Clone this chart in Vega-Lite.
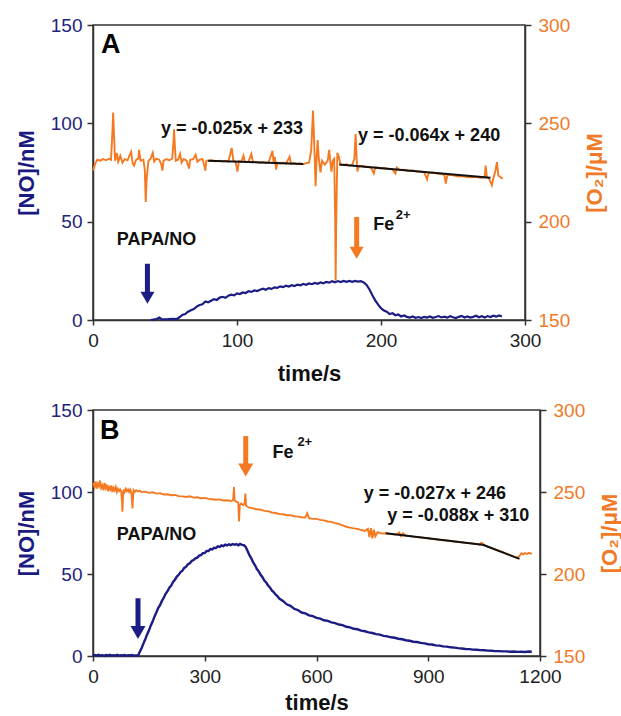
{
  "$schema": "https://vega.github.io/schema/vega-lite/v6.json",
  "padding": {"left": 14, "top": 15, "right": 0, "bottom": 0},
  "spacing": 15,
  "config": {
    "font": "Liberation Sans",
    "view": {"stroke": "#333", "strokeWidth": 1.5},
    "axis": {"grid": false, "domainColor": "#333", "tickColor": "#333", "domainWidth": 1.5, "tickWidth": 1.5, "tickSize": 6, "labelFont": "Liberation Sans", "labelFontSize": 19, "titleFont": "Liberation Sans", "titleFontSize": 22, "titleFontWeight": "bold", "labelFlush": false, "labelOverlap": false}
  },
  "datasets": {
    "noA": [
      {"t":40,"v":0},{"t":44,"v":0.4},{"t":46,"v":1.3},{"t":48,"v":0.3},{"t":52,"v":0.4},{"t":56,"v":0.6},{"t":58,"v":0.4},{"t":60,"v":1.4},{"t":62,"v":2.6},{"t":64,"v":3.0},{"t":66,"v":4.2},{"t":68,"v":5.0},{"t":70,"v":5.6},{"t":72,"v":6.8},{"t":74,"v":7.6},{"t":76,"v":8.0},{"t":78,"v":9.4},{"t":80,"v":9.0},{"t":82,"v":9.8},{"t":84,"v":10.6},{"t":86,"v":10.2},{"t":88,"v":11.4},{"t":90,"v":11.8},{"t":92,"v":11.3},{"t":94,"v":12.4},{"t":96,"v":12.9},{"t":98,"v":12.5},{"t":100,"v":13.5},{"t":102,"v":13.2},{"t":104,"v":14.0},{"t":106,"v":13.7},{"t":108,"v":14.6},{"t":110,"v":14.3},{"t":112,"v":15.0},{"t":114,"v":14.7},{"t":116,"v":15.4},{"t":118,"v":15.9},{"t":120,"v":15.4},{"t":122,"v":16.2},{"t":124,"v":15.8},{"t":126,"v":16.6},{"t":128,"v":16.3},{"t":130,"v":17.1},{"t":132,"v":16.7},{"t":134,"v":17.4},{"t":136,"v":17.0},{"t":138,"v":17.7},{"t":140,"v":17.3},{"t":142,"v":18.0},{"t":144,"v":17.6},{"t":146,"v":18.3},{"t":148,"v":17.9},{"t":150,"v":18.6},{"t":152,"v":18.2},{"t":154,"v":18.8},{"t":156,"v":18.4},{"t":158,"v":19.1},{"t":160,"v":18.7},{"t":162,"v":19.4},{"t":164,"v":19.0},{"t":166,"v":19.7},{"t":168,"v":19.2},{"t":170,"v":19.8},{"t":172,"v":19.3},{"t":174,"v":19.9},{"t":176,"v":19.4},{"t":178,"v":19.9},{"t":180,"v":19.4},{"t":182,"v":19.9},{"t":184,"v":19.5},{"t":186,"v":19.8},{"t":188,"v":19.1},{"t":190,"v":17.8},{"t":192,"v":15.5},{"t":194,"v":12.6},{"t":196,"v":10.0},{"t":198,"v":7.8},{"t":200,"v":6.0},{"t":202,"v":4.8},{"t":204,"v":4.2},{"t":206,"v":3.0},{"t":208,"v":3.4},{"t":210,"v":2.4},{"t":212,"v":2.8},{"t":214,"v":1.8},{"t":216,"v":2.3},{"t":218,"v":1.6},{"t":220,"v":1.2},{"t":222,"v":1.8},{"t":224,"v":1.1},{"t":226,"v":1.5},{"t":228,"v":1.0},{"t":230,"v":1.6},{"t":232,"v":1.2},{"t":234,"v":1.8},{"t":236,"v":1.1},{"t":238,"v":1.5},{"t":240,"v":2.0},{"t":242,"v":1.3},{"t":244,"v":1.7},{"t":246,"v":1.2},{"t":248,"v":1.9},{"t":250,"v":1.4},{"t":252,"v":1.0},{"t":254,"v":1.6},{"t":256,"v":2.1},{"t":258,"v":1.3},{"t":260,"v":1.8},{"t":262,"v":1.2},{"t":264,"v":1.6},{"t":266,"v":2.2},{"t":268,"v":1.4},{"t":270,"v":1.9},{"t":272,"v":1.3},{"t":274,"v":2.0},{"t":276,"v":1.5},{"t":278,"v":2.2},{"t":280,"v":1.7},{"t":282,"v":2.3},{"t":284,"v":1.8}
    ],
    "o2A": [
      {"t":0,"v":226},{"t":1.5,"v":229.5},{"t":3,"v":231.5},{"t":5,"v":231},{"t":7,"v":231.8},{"t":9,"v":231.2},{"t":11,"v":232},{"t":12.5,"v":231.5},{"t":13.5,"v":246},{"t":14,"v":255.5},{"t":14.6,"v":244},{"t":15.3,"v":231},{"t":16.5,"v":235},{"t":17.5,"v":230.5},{"t":19,"v":233.5},{"t":20.5,"v":230},{"t":22,"v":231.8},{"t":24,"v":231.2},{"t":25.5,"v":234},{"t":26.5,"v":235.5},{"t":27.5,"v":230},{"t":28.5,"v":228.5},{"t":30,"v":231.5},{"t":31.5,"v":232},{"t":32,"v":236.5},{"t":33,"v":231},{"t":35,"v":231.5},{"t":36,"v":226},{"t":36.6,"v":210},{"t":37.3,"v":222},{"t":38.5,"v":231},{"t":40,"v":232},{"t":41.5,"v":235},{"t":42.5,"v":230.5},{"t":44,"v":232},{"t":46,"v":231.5},{"t":47.5,"v":229},{"t":48.2,"v":226},{"t":49,"v":231},{"t":51,"v":231.8},{"t":53,"v":231.2},{"t":55,"v":232},{"t":55.8,"v":240},{"t":56.3,"v":247},{"t":56.9,"v":238},{"t":57.5,"v":231},{"t":59,"v":231.5},{"t":60.5,"v":234.5},{"t":61.5,"v":230},{"t":63,"v":231.8},{"t":65,"v":231},{"t":66.7,"v":227},{"t":67.5,"v":231.5},{"t":69.5,"v":231.8},{"t":71.3,"v":234},{"t":72.5,"v":230.5},{"t":74,"v":231.5},{"t":76,"v":231.8},{"t":77.5,"v":228},{"t":78,"v":226},{"t":78.7,"v":231},{"t":80,"v":231},{"t":82,"v":231.2},{"t":85,"v":230.7},{"t":88,"v":231},{"t":90,"v":230.6},{"t":92,"v":231},{"t":94,"v":230.5},{"t":96.3,"v":237.5},{"t":97.5,"v":231},{"t":99,"v":230.6},{"t":100.3,"v":225.5},{"t":101.3,"v":230.8},{"t":103,"v":230.4},{"t":104.5,"v":233.5},{"t":105.5,"v":230.2},{"t":108,"v":230.5},{"t":110,"v":234.5},{"t":111,"v":230.2},{"t":113,"v":230.4},{"t":116,"v":230},{"t":118,"v":230.3},{"t":120,"v":229.8},{"t":122,"v":230.2},{"t":124.6,"v":236},{"t":125.5,"v":229.8},{"t":126.3,"v":233},{"t":127.2,"v":226.5},{"t":128,"v":230},{"t":130,"v":229.6},{"t":132,"v":230},{"t":134,"v":229.5},{"t":136.5,"v":233},{"t":137.5,"v":229.4},{"t":139.5,"v":229.8},{"t":141.5,"v":229.3},{"t":144,"v":229.6},{"t":146,"v":229.2},{"t":148,"v":229.8},{"t":150,"v":230},{"t":151.5,"v":236},{"t":152.8,"v":256.5},{"t":153.7,"v":238},{"t":154.6,"v":218},{"t":155.3,"v":232},{"t":156,"v":241.5},{"t":156.8,"v":232},{"t":158,"v":225},{"t":159,"v":231},{"t":161,"v":229},{"t":163,"v":231},{"t":164,"v":236.5},{"t":165,"v":229},{"t":165.6,"v":225.5},{"t":166.5,"v":231},{"t":167.5,"v":232},{"t":168.2,"v":200},{"t":168.5,"v":170},{"t":168.9,"v":200},{"t":169.7,"v":235},{"t":170.7,"v":233},{"t":172,"v":229},{"t":174,"v":228.8},{"t":176,"v":229.2},{"t":178,"v":228.5},{"t":180,"v":228.8},{"t":181.5,"v":232},{"t":182.4,"v":244.5},{"t":183.1,"v":232},{"t":183.6,"v":225.5},{"t":184.5,"v":228.2},{"t":187,"v":228.4},{"t":189,"v":227.8},{"t":191,"v":228},{"t":193,"v":227.5},{"t":195,"v":224.5},{"t":196,"v":227.6},{"t":198,"v":227.4},{"t":200,"v":227},{"t":202,"v":227.3},{"t":205,"v":226.8},{"t":208,"v":226.6},{"t":210,"v":224.5},{"t":211,"v":227.5},{"t":213,"v":226.2},{"t":216,"v":226.4},{"t":219,"v":225.8},{"t":222,"v":226},{"t":225,"v":225.5},{"t":228,"v":225.4},{"t":230,"v":225},{"t":232,"v":221.5},{"t":233,"v":224.8},{"t":236,"v":224.9},{"t":239,"v":224.5},{"t":242,"v":224.2},{"t":244,"v":223.8},{"t":245,"v":219.3},{"t":246,"v":223.5},{"t":248,"v":223.8},{"t":251,"v":223.4},{"t":254,"v":223},{"t":257,"v":223.2},{"t":260,"v":222.7},{"t":263,"v":222.6},{"t":266,"v":222.8},{"t":269,"v":222.3},{"t":272,"v":222.5},{"t":272.7,"v":228.5},{"t":273.5,"v":222.5},{"t":275,"v":222},{"t":277,"v":218.5},{"t":278,"v":222},{"t":279.5,"v":226},{"t":280.5,"v":230.3},{"t":281.5,"v":223.5},{"t":283,"v":222.6},{"t":284.5,"v":221.8}
    ],
    "fitA": [
      {"g":"1","t":80,"v":231},{"g":"1","t":146,"v":229.35},
      {"g":"2","t":171,"v":229.06},{"g":"2","t":276,"v":222.34}
    ],
    "arrowA": [
      {"agent":"PAPA/NO","t":37.8,"v":28.6,"v2":13},
      {"agent":"Fe2+","t":183.1,"v":52.4,"v2":36}
    ],
    "headA": [
      {"agent":"PAPA/NO","t":37.8,"v":11.3},
      {"agent":"Fe2+","t":183.1,"v":34.2}
    ],
    "labelA": [
      {"t":96.5,"v":94.7,"label":"y = -0.025x + 233"},
      {"t":233.4,"v":90.8,"label":"y = -0.064x + 240"},
      {"t":44.1,"v":38.3,"label":"PAPA/NO"}
    ],
    "feA": [{"t":194.7,"v":45.6,"label":"Fe"}],
    "supA": [{"t":210.2,"v":51.5,"label":"2+"}],
    "letterA": [{"t":12.4,"v":140,"label":"A"}],
    "noB": [
      {"t":0,"v":0.3},{"t":5,"v":0.6},{"t":10,"v":0.2},{"t":15,"v":0.7},{"t":20,"v":0.3},{"t":25,"v":0.5},{"t":30,"v":0.1},{"t":35,"v":0.6},{"t":40,"v":0.3},{"t":45,"v":0.7},{"t":50,"v":0.2},{"t":55,"v":0.5},{"t":60,"v":0.3},{"t":65,"v":0.7},{"t":70,"v":0.2},{"t":75,"v":0.5},{"t":80,"v":0.3},{"t":85,"v":0.6},{"t":90,"v":0.2},{"t":95,"v":0.5},{"t":100,"v":0.3},{"t":105,"v":0.6},{"t":110,"v":0.2},{"t":115,"v":0.4},{"t":120,"v":0.3},{"t":121,"v":0.2},
      {"t":125,"v":2.3},{"t":130,"v":4.5},{"t":135,"v":7.4},{"t":140,"v":10},{"t":145,"v":13},{"t":150,"v":15.5},{"t":155,"v":18.5},{"t":160,"v":21},{"t":165,"v":24},{"t":170,"v":26.5},{"t":175,"v":29.2},{"t":180,"v":31},{"t":185,"v":33.6},{"t":190,"v":35.5},{"t":195,"v":37.9},{"t":200,"v":39.5},{"t":205,"v":41.6},{"t":210,"v":43},{"t":215,"v":45.1},{"t":220,"v":46.5},{"t":225,"v":48.4},{"t":230,"v":49.5},{"t":235,"v":51.2},{"t":240,"v":52},{"t":245,"v":53.7},{"t":250,"v":54.5},{"t":255,"v":56},{"t":260,"v":56.5},{"t":265,"v":57.9},{"t":270,"v":58.5},{"t":275,"v":59.6},{"t":280,"v":60},{"t":285,"v":61.2},{"t":290,"v":61.5},{"t":295,"v":62.7},{"t":300,"v":62.8},{"t":305,"v":64},{"t":310,"v":64},{"t":315,"v":65.2},{"t":320,"v":65},{"t":325,"v":66},{"t":330,"v":65.8},{"t":335,"v":66.8},{"t":340,"v":66.5},{"t":345,"v":67.4},{"t":350,"v":67},{"t":355,"v":67.9},{"t":360,"v":67.4},{"t":365,"v":68.1},{"t":370,"v":67.6},{"t":375,"v":68.3},{"t":380,"v":67.8},{"t":385,"v":68.2},{"t":390,"v":67.5},{"t":395,"v":68.3},{"t":400,"v":67.8},{"t":405,"v":67.6},{"t":410,"v":66.5},{"t":415,"v":64},{"t":420,"v":61.5},{"t":425,"v":59.5},{"t":430,"v":57},{"t":435,"v":55.3},{"t":440,"v":53},{"t":445,"v":51.6},{"t":450,"v":49.5},{"t":455,"v":48},{"t":460,"v":46},{"t":465,"v":44.8},{"t":470,"v":43},{"t":475,"v":41.8},{"t":480,"v":40},{"t":485,"v":39},{"t":490,"v":37.5},{"t":495,"v":36.6},{"t":500,"v":35},{"t":510,"v":33.6},{"t":520,"v":31.5},{"t":530,"v":30.6},{"t":540,"v":28.8},{"t":550,"v":28},{"t":560,"v":26.5},{"t":570,"v":26},{"t":580,"v":24.8},{"t":590,"v":24.3},{"t":600,"v":23.2},{"t":610,"v":22.8},{"t":620,"v":21.8},{"t":630,"v":21.4},{"t":640,"v":20.5},{"t":650,"v":20.1},{"t":660,"v":19.2},{"t":670,"v":18.8},{"t":680,"v":17.8},{"t":690,"v":17.5},{"t":700,"v":16.6},{"t":710,"v":16.3},{"t":720,"v":15.5},{"t":730,"v":15.1},{"t":740,"v":14.4},{"t":750,"v":14.0},{"t":760,"v":13.3},{"t":770,"v":13.0},{"t":780,"v":12.3},{"t":790,"v":12.0},{"t":800,"v":11.4},{"t":810,"v":11.1},{"t":820,"v":10.5},{"t":830,"v":10.2},{"t":840,"v":9.6},{"t":850,"v":9.3},{"t":860,"v":8.7},{"t":870,"v":8.5},{"t":880,"v":8.0},{"t":890,"v":7.7},{"t":900,"v":7.2},{"t":910,"v":7.0},{"t":920,"v":6.5},{"t":930,"v":6.3},{"t":940,"v":5.9},{"t":950,"v":5.7},{"t":960,"v":5.3},{"t":970,"v":5.1},{"t":980,"v":4.8},{"t":990,"v":4.6},{"t":1000,"v":4.3},{"t":1010,"v":4.2},{"t":1020,"v":3.9},{"t":1030,"v":3.8},{"t":1040,"v":3.6},{"t":1050,"v":3.5},{"t":1060,"v":3.3},{"t":1070,"v":3.2},{"t":1080,"v":3.0},{"t":1090,"v":3.0},{"t":1100,"v":2.8},{"t":1110,"v":2.8},{"t":1120,"v":2.6},{"t":1130,"v":2.7},{"t":1140,"v":2.5},{"t":1150,"v":2.6},{"t":1160,"v":2.4},{"t":1170,"v":2.7},{"t":1178,"v":2.6}
    ],
    "o2B": [
      {"t":0,"v":255.5},{"t":4,"v":253},{"t":7,"v":256.5},{"t":10,"v":252},{"t":13,"v":255},{"t":16,"v":253.5},{"t":19,"v":257},{"t":22,"v":252.5},{"t":25,"v":254},{"t":28,"v":251},{"t":31,"v":255.5},{"t":34,"v":252.5},{"t":37,"v":254.5},{"t":40,"v":250.5},{"t":43,"v":253},{"t":46,"v":251.5},{"t":49,"v":254},{"t":52,"v":250},{"t":55,"v":252.5},{"t":58,"v":251},{"t":61,"v":253},{"t":64,"v":250},{"t":67,"v":252},{"t":70,"v":250.5},{"t":73,"v":251.5},{"t":76,"v":250},{"t":78,"v":244},{"t":79,"v":238},{"t":80.5,"v":247},{"t":82,"v":251.5},{"t":85,"v":250},{"t":88,"v":252},{"t":91,"v":250.5},{"t":94,"v":251.5},{"t":97,"v":250},{"t":100,"v":251.5},{"t":103,"v":249.5},{"t":105,"v":244},{"t":106,"v":240},{"t":107.5,"v":247},{"t":109,"v":251},{"t":112,"v":250},{"t":116,"v":251},{"t":120,"v":250.3},{"t":125,"v":250.8},{"t":130,"v":250},{"t":140,"v":250.2},{"t":150,"v":249.5},{"t":160,"v":249.8},{"t":170,"v":249},{"t":180,"v":249.3},{"t":190,"v":248.5},{"t":200,"v":248.6},{"t":210,"v":248},{"t":220,"v":248.2},{"t":230,"v":247.5},{"t":240,"v":247.3},{"t":250,"v":247},{"t":260,"v":247.4},{"t":270,"v":246.6},{"t":280,"v":246.8},{"t":290,"v":246.2},{"t":300,"v":246.4},{"t":310,"v":245.8},{"t":320,"v":245.6},{"t":330,"v":245.3},{"t":340,"v":245.5},{"t":350,"v":244.8},{"t":360,"v":245},{"t":370,"v":244.5},{"t":376,"v":245},{"t":378.6,"v":253},{"t":380,"v":245},{"t":385,"v":244},{"t":390,"v":243.5},{"t":392,"v":232},{"t":394,"v":242},{"t":398,"v":243},{"t":403,"v":242},{"t":407,"v":243},{"t":409,"v":249},{"t":411,"v":241.5},{"t":415,"v":241},{"t":420,"v":240.5},{"t":430,"v":240},{"t":440,"v":239.5},{"t":450,"v":239.2},{"t":460,"v":238.5},{"t":470,"v":238.3},{"t":480,"v":237.5},{"t":490,"v":237.2},{"t":500,"v":236.6},{"t":510,"v":236.4},{"t":520,"v":235.8},{"t":530,"v":235.9},{"t":540,"v":235.2},{"t":550,"v":235},{"t":560,"v":234.6},{"t":570,"v":234.4},{"t":575,"v":237},{"t":580,"v":234},{"t":590,"v":233.6},{"t":600,"v":233.6},{"t":610,"v":233},{"t":620,"v":232.7},{"t":630,"v":232},{"t":640,"v":231.8},{"t":650,"v":231},{"t":660,"v":230.5},{"t":670,"v":229.6},{"t":680,"v":228.8},{"t":690,"v":228.3},{"t":700,"v":227.8},{"t":710,"v":227.5},{"t":720,"v":226.8},{"t":730,"v":226.3},{"t":738,"v":227.5},{"t":742,"v":222.5},{"t":746,"v":228},{"t":750,"v":221.8},{"t":754,"v":227},{"t":758,"v":223},{"t":764,"v":225.5},{"t":770,"v":225},{"t":778,"v":224.6},{"t":786,"v":224.8},{"t":795,"v":224.5},{"t":805,"v":224.2},{"t":815,"v":224},{"t":822,"v":225.3},{"t":827,"v":223.2},{"t":832,"v":224.8},{"t":840,"v":223.4},{"t":850,"v":223.2},{"t":860,"v":222.8},{"t":870,"v":222.6},{"t":880,"v":222.3},{"t":890,"v":222},{"t":900,"v":221.8},{"t":910,"v":221.4},{"t":920,"v":221.2},{"t":930,"v":220.8},{"t":940,"v":220.6},{"t":950,"v":220.4},{"t":960,"v":220.1},{"t":970,"v":219.8},{"t":980,"v":219.6},{"t":990,"v":219.3},{"t":1000,"v":219},{"t":1010,"v":218.8},{"t":1020,"v":218.5},{"t":1030,"v":218.2},{"t":1038,"v":217.9},{"t":1042,"v":219},{"t":1046,"v":218.6},{"t":1050,"v":217.6},{"t":1060,"v":216.7},{"t":1070,"v":215.8},{"t":1080,"v":215},{"t":1090,"v":214.1},{"t":1100,"v":213.3},{"t":1110,"v":212.4},{"t":1120,"v":211.5},{"t":1130,"v":210.6},{"t":1140,"v":210},{"t":1145,"v":211},{"t":1150,"v":212.6},{"t":1155,"v":212},{"t":1160,"v":212.8},{"t":1165,"v":212.2},{"t":1170,"v":212.9},{"t":1175,"v":212.4},{"t":1178,"v":212.7}
    ],
    "fitB": [
      {"g":"1","t":786,"v":224.78},{"g":"1","t":1045,"v":217.8},
      {"g":"2","t":1045,"v":218.0},{"g":"2","t":1145,"v":209.2}
    ],
    "arrowB": [
      {"agent":"PAPA/NO","t":120.8,"v":35.2,"v2":15.7},
      {"agent":"Fe2+","t":410,"v":134.1,"v2":114.6}
    ],
    "headB": [
      {"agent":"PAPA/NO","t":120.8,"v":14.3},
      {"agent":"Fe2+","t":410,"v":113.4}
    ],
    "labelB": [
      {"t":917.8,"v":95.5,"label":"y = -0.027x + 246"},
      {"t":980.4,"v":82.2,"label":"y = -0.088x + 310"},
      {"t":170.5,"v":71,"label":"PAPA/NO"}
    ],
    "feB": [{"t":481.6,"v":121,"label":"Fe"}],
    "supB": [{"t":548.7,"v":128,"label":"2+"}],
    "letterB": [{"t":44.8,"v":137.2,"label":"B"}]
  },
  "vconcat": [
    {
      "width": 432,
      "height": 295,
      "encoding": {
        "x": {"field": "t", "type": "quantitative", "scale": {"domain": [0, 300], "nice": false, "zero": false}, "axis": {"values": [0, 100, 200, 300], "format": "d", "title": "time/s", "labelColor": "#222", "titleColor": "#111", "tickSize": 5, "labelPadding": 6, "titlePadding": 13}}
      },
      "layer": [
        {
          "encoding": {
            "y": {"field": "v", "type": "quantitative", "scale": {"domain": [0, 150], "nice": false}, "axis": {"orient": "left", "values": [0, 50, 100, 150], "title": "[NO]/nM", "labelColor": "#23237a", "titleColor": "#1a1a80", "labelPadding": 5, "titlePadding": 12}}
          },
          "layer": [
            {"data": {"name": "noA"}, "mark": {"type": "line", "color": "#1c1c84", "strokeWidth": 2.2}},
            {"data": {"name": "arrowA"}, "mark": {"type": "rule", "strokeWidth": 5}, "encoding": {"y2": {"field": "v2"}, "color": {"field": "agent", "type": "nominal", "scale": {"domain": ["PAPA/NO", "Fe2+"], "range": ["#1c1c84", "#f47920"]}, "legend": null}}},
            {"data": {"name": "headA"}, "mark": {"type": "point", "shape": "triangle-down", "filled": true, "size": 196, "opacity": 1}, "encoding": {"color": {"field": "agent", "type": "nominal", "scale": {"domain": ["PAPA/NO", "Fe2+"], "range": ["#1c1c84", "#f47920"]}, "legend": null}}},
            {"data": {"name": "labelA"}, "mark": {"type": "text", "fontSize": 18, "fontWeight": "bold", "align": "center", "baseline": "alphabetic", "color": "#111"}, "encoding": {"text": {"field": "label"}}},
            {"data": {"name": "feA"}, "mark": {"type": "text", "fontSize": 18, "fontWeight": "bold", "align": "left", "baseline": "alphabetic", "color": "#111"}, "encoding": {"text": {"field": "label"}}},
            {"data": {"name": "supA"}, "mark": {"type": "text", "fontSize": 13, "fontWeight": "bold", "align": "left", "baseline": "alphabetic", "color": "#111"}, "encoding": {"text": {"field": "label"}}},
            {"data": {"name": "letterA"}, "mark": {"type": "text", "fontSize": 27, "fontWeight": "bold", "align": "center", "baseline": "middle", "color": "#000"}, "encoding": {"text": {"field": "label"}}}
          ]
        },
        {
          "encoding": {
            "y": {"field": "v", "type": "quantitative", "scale": {"domain": [150, 300], "nice": false, "zero": false}, "axis": {"orient": "right", "values": [150, 200, 250, 300], "title": "[O₂]/μM", "titleAngle": 270, "titleBaseline": "bottom", "labelColor": "#f07a28", "titleColor": "#f07a28", "labelPadding": 7, "titlePadding": 37}}
          },
          "layer": [
            {"data": {"name": "o2A"}, "mark": {"type": "line", "color": "#f47920", "strokeWidth": 1.9}},
            {"data": {"name": "fitA"}, "mark": {"type": "line", "color": "#111", "strokeWidth": 2}, "encoding": {"detail": {"field": "g"}}}
          ]
        }
      ],
      "resolve": {"scale": {"y": "independent"}}
    },
    {
      "width": 447,
      "height": 246,
      "encoding": {
        "x": {"field": "t", "type": "quantitative", "scale": {"domain": [0, 1200], "nice": false, "zero": false}, "axis": {"values": [0, 300, 600, 900, 1200], "format": "d", "title": "time/s", "labelColor": "#222", "titleColor": "#111", "tickSize": 5, "labelPadding": 6, "titlePadding": 6}}
      },
      "layer": [
        {
          "encoding": {
            "y": {"field": "v", "type": "quantitative", "scale": {"domain": [0, 150], "nice": false}, "axis": {"orient": "left", "values": [0, 50, 100, 150], "title": "[NO]/nM", "labelColor": "#23237a", "titleColor": "#1a1a80", "labelPadding": 5, "titlePadding": 12}}
          },
          "layer": [
            {"data": {"name": "noB"}, "mark": {"type": "line", "color": "#1c1c84", "strokeWidth": 2.4}},
            {"data": {"name": "arrowB"}, "mark": {"type": "rule", "strokeWidth": 5}, "encoding": {"y2": {"field": "v2"}, "color": {"field": "agent", "type": "nominal", "scale": {"domain": ["PAPA/NO", "Fe2+"], "range": ["#1c1c84", "#f47920"]}, "legend": null}}},
            {"data": {"name": "headB"}, "mark": {"type": "point", "shape": "triangle-down", "filled": true, "size": 225, "opacity": 1}, "encoding": {"color": {"field": "agent", "type": "nominal", "scale": {"domain": ["PAPA/NO", "Fe2+"], "range": ["#1c1c84", "#f47920"]}, "legend": null}}},
            {"data": {"name": "labelB"}, "mark": {"type": "text", "fontSize": 18, "fontWeight": "bold", "align": "center", "baseline": "alphabetic", "color": "#111"}, "encoding": {"text": {"field": "label"}}},
            {"data": {"name": "feB"}, "mark": {"type": "text", "fontSize": 18, "fontWeight": "bold", "align": "left", "baseline": "alphabetic", "color": "#111"}, "encoding": {"text": {"field": "label"}}},
            {"data": {"name": "supB"}, "mark": {"type": "text", "fontSize": 13, "fontWeight": "bold", "align": "left", "baseline": "alphabetic", "color": "#111"}, "encoding": {"text": {"field": "label"}}},
            {"data": {"name": "letterB"}, "mark": {"type": "text", "fontSize": 27, "fontWeight": "bold", "align": "center", "baseline": "middle", "color": "#000"}, "encoding": {"text": {"field": "label"}}}
          ]
        },
        {
          "encoding": {
            "y": {"field": "v", "type": "quantitative", "scale": {"domain": [150, 300], "nice": false, "zero": false}, "axis": {"orient": "right", "values": [150, 200, 250, 300], "title": "[O₂]/μM", "titleAngle": 270, "titleBaseline": "bottom", "labelColor": "#f07a28", "titleColor": "#f07a28", "labelPadding": 7, "titlePadding": 37}}
          },
          "layer": [
            {"data": {"name": "o2B"}, "mark": {"type": "line", "color": "#f47920", "strokeWidth": 1.9}},
            {"data": {"name": "fitB"}, "mark": {"type": "line", "color": "#111", "strokeWidth": 2}, "encoding": {"detail": {"field": "g"}}}
          ]
        }
      ],
      "resolve": {"scale": {"y": "independent"}}
    }
  ]
}
